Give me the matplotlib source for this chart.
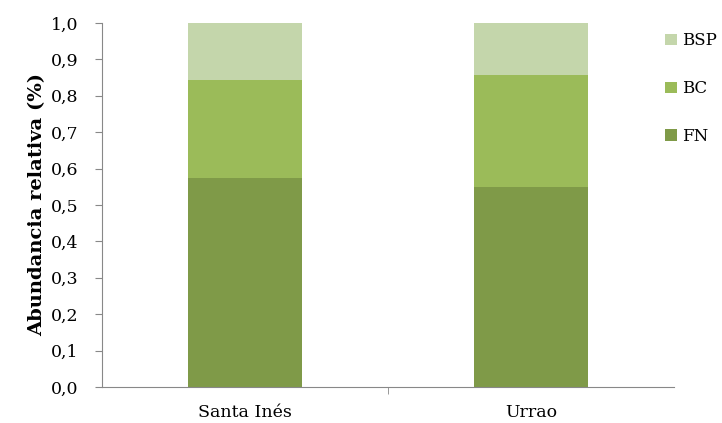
import matplotlib.pyplot as plt
import numpy as np
from matplotlib.ticker import FixedLocator, FuncFormatter

sites = ["Santa Inés", "Urrao"]
series = ["FN", "BC", "BSP"]
fn = [0.573, 0.550]
bc = [0.270, 0.306]
bsp = [0.157, 0.144]
colors = ["#7f9a48", "#9bbb59", "#c4d6ab"]

plt.rcParams["font.family"] = ["DejaVu Serif"]

fig = plt.figure(figsize=(7.22, 4.23), dpi=100)
ax = fig.add_axes([0.141, 0.085, 0.793, 0.861])

x = np.arange(len(sites))
bottom = np.zeros(len(sites))
handles = []
for name, vals, c in zip(series, [fn, bc, bsp], colors):
    h = ax.bar(x, vals, width=0.4, bottom=bottom, color=c, label=name)
    handles.append(h)
    bottom += np.array(vals)

ax.set_xlim(-0.5, 1.5)
ax.set_ylim(0, 1.0)
ax.set_yticks(np.arange(0, 1.01, 0.1))
ax.yaxis.set_major_formatter(FuncFormatter(lambda v, p: f"{v:.1f}".replace(".", ",")))
ax.set_xticks(x)
ax.set_xticklabels(sites)
ax.xaxis.set_minor_locator(FixedLocator([0.5]))
ax.tick_params(axis="x", which="major", length=0, pad=12, labelsize=12.5)
ax.tick_params(axis="x", which="minor", length=5, color="#888888")
ax.tick_params(axis="y", length=5, color="#888888", labelsize=12.5, pad=12)

for s in ["top", "right"]:
    ax.spines[s].set_visible(False)
for s in ["left", "bottom"]:
    ax.spines[s].set_color("#888888")

ax.set_ylabel("Abundancia relativa (%)", fontsize=14, fontweight="bold", labelpad=3)

ax.legend(handles[::-1], series[::-1], loc="upper left", bbox_to_anchor=(0.958, 1.015),
          frameon=False, handlelength=0.7, handleheight=0.7, labelspacing=1.85,
          fontsize=12, handletextpad=0.3)

fig.savefig("out.png", dpi=100)
